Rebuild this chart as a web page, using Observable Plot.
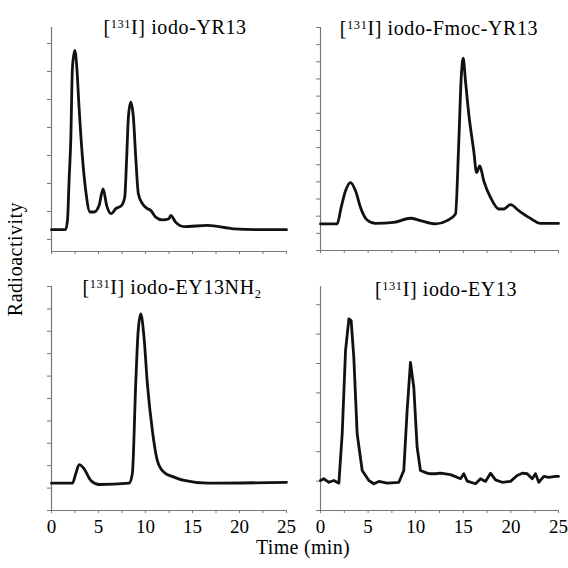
<!DOCTYPE html>
<html>
<head>
<meta charset="utf-8">
<script src="https://cdn.jsdelivr.net/npm/d3@7"></script>
<script src="https://cdn.jsdelivr.net/npm/@observablehq/plot@0.6"></script>
<style>
  html, body { margin: 0; padding: 0; background: #fff; }
  #wrap { position: relative; width: 568px; height: 568px; overflow: hidden; font-family: "Liberation Serif", "Times New Roman", serif; color: #000; }
  #wrap svg { position: absolute; }
  #wrap svg text { font-family: "Liberation Serif", serif !important; }
  .txt { position: absolute; font-family: "Liberation Serif", serif; font-size: 20px; line-height: 20px; white-space: nowrap; text-align: center; letter-spacing: 0.6px; }
  .txt sup { font-size: 0.62em; position: relative; top: -0.5em; vertical-align: baseline; line-height: 0; }
  .txt sub { font-size: 0.62em; position: relative; top: 0.3em; vertical-align: baseline; line-height: 0; }
</style>
</head>
<body>
<div id="wrap"></div>
<script>
// ---- Data (time in min, radioactivity in arbitrary units) ----
const titles = ["iodo-YR13", "iodo-Fmoc-YR13", "iodo-EY13NH", "iodo-EY13"];
const xTickValues = [0, 2.5, 5, 7.5, 10, 12.5, 15, 17.5, 20, 22.5, 25];
const xTickLabels = [0, 5, 10, 15, 20, 25];

const yr13Time = [0,1.5,1.7,1.87,2.05,2.23,2.48,2.69,2.93,3.29,3.64,4.1,4.53,5.06,5.49,5.87,6.37,6.83,7.44,7.79,8.0,8.18,8.43,8.71,8.96,9.24,9.67,10.2,10.55,11.08,11.79,12.5,12.68,13.2,14.1,16.6,19.4,22.2,25];
const yr13Signal = [0.35,0.35,0.68,2.1,3.54,6.15,6.75,6.15,4.73,2.94,1.75,0.98,0.98,1.21,1.81,1.21,0.92,1.10,1.21,1.51,2.94,4.37,4.9,4.37,2.94,1.63,1.28,1.10,1.04,0.80,0.70,0.74,0.86,0.62,0.46,0.50,0.38,0.35,0.35];

const fmocTime = [0,1.75,2.17,2.63,3.15,3.68,4.2,4.9,5.78,7.7,9.45,10.5,12.08,13.3,14.18,14.53,14.78,14.99,15.23,15.58,16.1,16.39,16.73,17.15,17.86,18.73,19.26,19.96,20.83,21.88,23.11,25];
const fmocSignal = [1.55,1.55,2.51,3.48,3.96,3.48,2.51,1.78,1.58,1.64,1.88,1.74,1.55,1.74,2.13,6.38,10.06,11.22,9.87,7.93,5.8,4.54,4.93,4.06,3.09,2.42,2.42,2.67,2.32,1.93,1.58,1.58];

const ey13nh2Time = [0,2.23,2.58,2.94,3.47,4.18,5.06,8.25,8.6,8.96,9.2,9.49,9.84,10.2,10.73,11.26,11.96,13.03,14.1,16.6,25];
const ey13nh2Signal = [1.22,1.22,1.64,2.05,1.86,1.34,1.16,1.22,1.64,5.65,7.89,8.78,7.74,5.65,3.57,2.23,1.71,1.49,1.34,1.22,1.26];

const ey13Time = [0,0.35,0.88,1.4,1.93,2.28,2.63,2.98,3.22,3.5,3.85,4.38,5.08,5.6,6.13,7.0,8.23,8.75,9.1,9.45,9.8,10.15,10.5,11.2,11.55,12.08,12.61,13.66,14.71,15.05,15.41,16.28,16.81,17.33,17.86,18.38,19.09,19.96,20.66,21.19,21.71,22.24,22.58,22.93,23.46,23.98,24.69,25];
const ey13Signal = [1.02,1.08,0.96,1.02,0.93,2.61,5.44,6.52,6.46,5.21,2.61,1.36,1.02,0.91,0.99,0.93,0.96,1.36,3.40,5.04,4.19,2.15,1.36,1.27,1.25,1.25,1.27,1.22,1.08,1.25,1.0,0.91,1.08,0.99,1.27,1.04,0.96,0.99,1.19,1.27,1.25,1.08,1.25,0.96,1.16,1.13,1.16,1.16];

// y-axis (unlabelled) tick values per panel
const yr13YTicks = [0,1,2,3,4,5,6,7];
const fmocYTicks = [0,1,2,3,4,5,6,7,8,9,10,11,12,13];
const ey13nh2YTicks = [0,1,2,3,4,5,6,7,8,9,10];
const ey13YTicks = [0,1,2,3,4,5,6,7];

// ---- Drawing ----
const wrap = document.getElementById("wrap");
const axisColor = "#777";
const serif = "'Liberation Serif', serif";

function panel({time, signal, yDomain, yTicks, labels, box, curve}) {
  const data = time.map((t, i) => ({t, v: signal[i]}));
  const svg = Plot.plot({
    width: box.w, height: box.h,
    marginLeft: box.ml, marginRight: box.mr, marginTop: box.mt, marginBottom: box.mb,
    style: {background: "transparent", fontFamily: serif, fontSize: "19px", color: "#000", overflow: "visible"},
    x: {domain: [0, 25]},
    y: {domain: yDomain},
    marks: [
      Plot.axisY({ticks: yTicks, tickSize: 4, tickFormat: () => "", label: null, stroke: axisColor}),
      Plot.axisX({ticks: xTickValues, tickSize: 3, tickPadding: 6, label: null, stroke: axisColor, fill: "#000",
        tickFormat: d => (labels && xTickLabels.includes(d)) ? String(d) : ""}),
      Plot.ruleX([0], {stroke: axisColor, strokeWidth: 1.2}),
      Plot.ruleY([yDomain[0]], {stroke: axisColor, strokeWidth: 1.2}),
      Plot.line(data, {x: "t", y: "v", stroke: "#111", strokeWidth: 2.8, curve, strokeLinejoin: "round"})
    ]
  });
  svg.setAttribute("font-family", serif);
  svg.querySelectorAll("text").forEach(t => t.style.fontFamily = serif);
  svg.style.left = box.x + "px";
  svg.style.top = box.y + "px";
  wrap.appendChild(svg);
}

panel({time: yr13Time, signal: yr13Signal, yDomain: [-0.43, 7.57], yTicks: yr13YTicks, labels: false, curve: "monotone-x",
  box: {x: 0, y: 0, w: 300, h: 270, ml: 51, mr: 14, mt: 27, mb: 19}});
panel({time: fmocTime, signal: fmocSignal, yDomain: [0, 13], yTicks: fmocYTicks, labels: false, curve: "monotone-x",
  box: {x: 270, y: 0, w: 298, h: 270, ml: 50, mr: 10, mt: 27, mb: 20}});
panel({time: ey13nh2Time, signal: ey13nh2Signal, yDomain: [0, 10], yTicks: ey13nh2YTicks, labels: true, curve: "monotone-x",
  box: {x: 0, y: 270, w: 300, h: 298, ml: 51, mr: 14, mt: 16, mb: 58}});
panel({time: ey13Time, signal: ey13Signal, yDomain: [0, 7.62], yTicks: ey13YTicks, labels: true, curve: "linear",
  box: {x: 270, y: 270, w: 298, h: 298, ml: 50, mr: 10, mt: 16, mb: 58}});

function text(html, cx, top, extra) {
  const d = document.createElement("div");
  d.className = "txt";
  d.innerHTML = html;
  d.style.left = (cx - 150) + "px";
  d.style.width = "300px";
  d.style.top = top + "px";
  if (extra) Object.assign(d.style, extra);
  wrap.appendChild(d);
  return d;
}
text("[<sup>131</sup>I] " + titles[0], 175, 17);
text("[<sup>131</sup>I] " + titles[1], 439, 18);
text("[<sup>131</sup>I] " + titles[2] + "<sub>2</sub>", 172, 277);
text("[<sup>131</sup>I] " + titles[3], 446, 279);
text("Time (min)", 303, 537, {letterSpacing: "0.3px"});
text("Radioactivity", 15, 249, {transform: "rotate(-90deg)", transformOrigin: "150px 10px", letterSpacing: "0.5px"});
</script>
</body>
</html>
